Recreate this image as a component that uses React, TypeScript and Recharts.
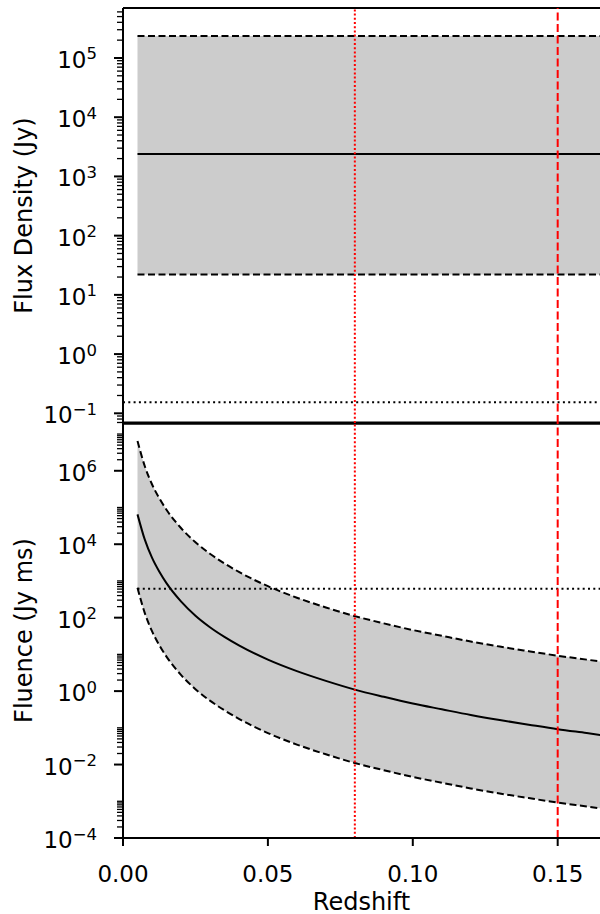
import {
  Area,
  ComposedChart,
  Line,
  ReferenceLine,
  XAxis,
  YAxis,
} from "recharts";

const FONT = "'DejaVu Sans', sans-serif";
const GREY = "#cccccc";

// --- data ---

// redshift axis
const Z_TICKS = [0, 0.05, 0.1, 0.15];
const Z_MAX = 0.1646;
const Z_MARKERS_DOTTED = [0.08];
const Z_MARKERS_DASHED = [0.15];

// top panel: flux density (Jy), flat with redshift
const fluxZ = [0.005, 0.17];
const fluxMid = [2400, 2400];
const fluxLow = [22, 22];
const fluxHigh = [2.35e5, 2.35e5];
const FLUX_LIMIT = 0.153;
const FLUX_DOMAIN = [0.0686, 6.98e5];
const FLUX_MAJOR = [0.1, 1, 10, 100, 1e3, 1e4, 1e5];

// bottom panel: fluence (Jy ms)
const fluenceZ = [
  0.005, 0.0075, 0.01, 0.0125, 0.015, 0.02, 0.025, 0.03, 0.035, 0.04, 0.05, 0.06,
  0.07, 0.08, 0.09, 0.1, 0.11, 0.12, 0.13, 0.14, 0.15, 0.16, 0.17,
];
const fluenceMid = [
  6.5e4, 1.35e4, 4.3e3, 1.8e3, 870, 277, 113, 55, 30, 17.6, 7.2, 3.5, 1.9, 1.1,
  0.7, 0.46, 0.32, 0.224, 0.163, 0.122, 0.092, 0.072, 0.056,
];
const fluenceHigh = [
  6.5e6, 1.35e6, 4.3e5, 1.8e5, 8.7e4, 2.77e4, 1.13e4, 5500, 3000, 1760, 720, 350,
  190, 110, 70, 46, 32, 22.4, 16.3, 12.2, 9.2, 7.2, 5.6,
];
const fluenceLow = [
  650, 135, 43, 18, 8.7, 2.77, 1.13, 0.55, 0.3, 0.176, 0.072, 0.035, 0.019, 0.011,
  0.007, 0.0046, 0.0032, 0.00224, 0.00163, 0.00122, 0.00092, 0.00072, 0.00056,
];
const fluenceLimitZ = [0.005, 0.17];
const fluenceLimit = [610, 610];
const FLUENCE_DOMAIN = [1e-4, 2.0e7];
const FLUENCE_MAJOR = [1e-4, 1e-2, 1, 1e2, 1e4, 1e6];

// --- tick positions ---

const SUBS = [2, 3, 4, 5, 6, 7, 8, 9];

function minorTicks(decades: number[], extra: number[], domain: number[]) {
  const out: number[] = [...extra];
  decades.forEach((d) => SUBS.forEach((k) => out.push(k * Math.pow(10, d))));
  return out.filter((v) => v >= domain[0] && v <= domain[1]);
}

const fluxTicks = [
  ...FLUX_MAJOR,
  ...minorTicks([-2, -1, 0, 1, 2, 3, 4, 5], [], FLUX_DOMAIN),
];
// majors every second decade: minor ticks only fill the even decades
const fluenceTicks = [
  ...FLUENCE_MAJOR,
  ...minorTicks([-4, -2, 0, 2, 4, 6], [1e-3, 1e-1, 10, 1e3, 1e5, 1e7], FLUENCE_DOMAIN),
];

// --- rows for recharts ---

const fluxRows = fluxZ.map((z, i) => ({
  z,
  mid: fluxMid[i],
  lo: fluxLow[i],
  hi: fluxHigh[i],
  band: [fluxLow[i], fluxHigh[i]],
}));

const fluenceRows = fluenceZ.map((z, i) => ({
  z,
  mid: fluenceMid[i],
  lo: fluenceLow[i],
  hi: fluenceHigh[i],
  band: [fluenceLow[i], fluenceHigh[i]],
}));

const fluenceLimitRows = fluenceLimitZ.map((z, i) => ({ z, v: fluenceLimit[i] }));

// --- ticks & labels ---

function isIn(list: number[], v: number) {
  return list.some((m) => Math.abs(Math.log10(m) - Math.log10(v)) < 1e-6);
}

function makeLogTick(majors: number[]) {
  return (props: any) => {
    const { x, y, payload } = props;
    const v = payload.value as number;
    const major = isIn(majors, v);
    const exp = Math.round(Math.log10(v));
    return (
      <g>
        <line
          x1={x - (major ? 9 : 6)}
          x2={x}
          y1={y}
          y2={y}
          stroke="#000"
          strokeWidth={major ? 2 : 1.3}
        />
        {major && (
          <text
            x={x - 26}
            y={y + 10}
            textAnchor="end"
            fontFamily={FONT}
            fontSize={23}
            fill="#000"
          >
            10
            <tspan dy={-8.5} fontSize={16.5}>
              {exp < 0 ? `\u2212${-exp}` : `${exp}`}
            </tspan>
          </text>
        )}
      </g>
    );
  };
}

function ZTick(props: any) {
  const { x, y, payload } = props;
  return (
    <g>
      <line x1={x} x2={x} y1={y} y2={y + 8} stroke="#000" strokeWidth={2} />
      <text
        x={x}
        y={y + 44}
        textAnchor="middle"
        fontFamily={FONT}
        fontSize={23}
        fill="#000"
      >
        {(payload.value as number).toFixed(2)}
      </text>
    </g>
  );
}

function yTitle(text: string) {
  return (props: any) => {
    const vb = props.viewBox;
    const cx = 31.5;
    const cy = vb.y + vb.height / 2;
    return (
      <text
        x={cx}
        y={cy}
        transform={`rotate(-90 ${cx} ${cy})`}
        textAnchor="middle"
        fontFamily={FONT}
        fontSize={24}
        fill="#000"
      >
        {text}
      </text>
    );
  };
}

// frame lines drawn at the y-domain bounds (the right spine is off-picture)
function spine(y: number, key: string, width = 1.8) {
  return (
    <ReferenceLine
      key={key}
      y={y}
      stroke="#000"
      strokeWidth={width}
      ifOverflow="visible"
    />
  );
}

function redMarkers() {
  return [
    ...Z_MARKERS_DOTTED.map((z) => (
      <ReferenceLine
        key={`dot-${z}`}
        x={z}
        stroke="#ff0000"
        strokeWidth={2}
        strokeDasharray="2 2.2"
      />
    )),
    ...Z_MARKERS_DASHED.map((z) => (
      <ReferenceLine
        key={`dash-${z}`}
        x={z}
        stroke="#ff0000"
        strokeWidth={2}
        strokeDasharray="8 3.5"
      />
    )),
  ];
}

function FluxPanel() {
  return (
    <ComposedChart
      width={600}
      height={445}
      data={fluxRows}
      margin={{ top: 8, right: 0, bottom: 22, left: 0 }}
    >
      <XAxis
        dataKey="z"
        type="number"
        domain={[0, Z_MAX]}
        allowDataOverflow
        hide
      />
      <YAxis
        type="number"
        scale="log"
        domain={FLUX_DOMAIN}
        allowDataOverflow
        ticks={fluxTicks}
        interval={0}
        width={123}
        tickSize={0}
        tickMargin={0}
        tickLine={false}
        axisLine={{ stroke: "#000", strokeWidth: 2 }}
        tick={makeLogTick(FLUX_MAJOR)}
        label={{ content: yTitle("Flux Density (Jy)") }}
      />
      <Area
        dataKey="band"
        type="linear"
        fill={GREY}
        fillOpacity={1}
        stroke="none"
        isAnimationActive={false}
        activeDot={false}
      />
      <Line dataKey="hi" stroke="#000" strokeWidth={2} strokeDasharray="7 3.5" dot={false} activeDot={false} isAnimationActive={false} />
      <Line dataKey="lo" stroke="#000" strokeWidth={2} strokeDasharray="7 3.5" dot={false} activeDot={false} isAnimationActive={false} />
      <Line dataKey="mid" stroke="#000" strokeWidth={2} dot={false} activeDot={false} isAnimationActive={false} />
      <ReferenceLine y={FLUX_LIMIT} stroke="#000" strokeWidth={2} strokeDasharray="2 3.3" />
      {spine(FLUX_DOMAIN[1], "top")}
      {spine(FLUX_DOMAIN[0], "bottom", 3)}
      {redMarkers()}
    </ComposedChart>
  );
}

function FluencePanel() {
  return (
    <ComposedChart
      width={600}
      height={491}
      data={fluenceRows}
      margin={{ top: 0, right: 0, bottom: 0, left: 0 }}
    >
      <XAxis
        dataKey="z"
        type="number"
        domain={[0, Z_MAX]}
        allowDataOverflow
        ticks={Z_TICKS}
        interval={0}
        height={76}
        tickSize={0}
        tickMargin={0}
        tickLine={false}
        axisLine={{ stroke: "#000", strokeWidth: 1.8 }}
        tick={ZTick}
        label={{
          value: "Redshift",
          position: "insideBottom",
          offset: 4.5,
          fill: "#000",
          fontSize: 24,
          fontFamily: FONT,
        }}
      />
      <YAxis
        type="number"
        scale="log"
        domain={FLUENCE_DOMAIN}
        allowDataOverflow
        ticks={fluenceTicks}
        interval={0}
        width={123}
        tickSize={0}
        tickMargin={0}
        tickLine={false}
        axisLine={{ stroke: "#000", strokeWidth: 2 }}
        tick={makeLogTick(FLUENCE_MAJOR)}
        label={{ content: yTitle("Fluence (Jy ms)") }}
      />
      <Area
        dataKey="band"
        type="monotone"
        fill={GREY}
        fillOpacity={1}
        stroke="none"
        isAnimationActive={false}
        activeDot={false}
      />
      <Line type="monotone" dataKey="hi" stroke="#000" strokeWidth={2} strokeDasharray="7 3.5" dot={false} activeDot={false} isAnimationActive={false} />
      <Line type="monotone" dataKey="lo" stroke="#000" strokeWidth={2} strokeDasharray="7 3.5" dot={false} activeDot={false} isAnimationActive={false} />
      <Line type="monotone" dataKey="mid" stroke="#000" strokeWidth={2} dot={false} activeDot={false} isAnimationActive={false} />
      <Line
        data={fluenceLimitRows}
        dataKey="v"
        stroke="#000"
        strokeWidth={2}
        strokeDasharray="2 3.3"
        dot={false}
        activeDot={false}
        isAnimationActive={false}
      />
      {spine(FLUENCE_DOMAIN[1], "top", 3)}
      {redMarkers()}
    </ComposedChart>
  );
}

export default function App() {
  return (
    <div
      style={{
        position: "absolute",
        left: 0,
        top: 0,
        width: 600,
        height: 914,
        background: "#fff",
        overflow: "hidden",
      }}
    >
      <div style={{ position: "absolute", left: 0, top: 0 }}>
        <FluxPanel />
      </div>
      <div style={{ position: "absolute", left: 0, top: 423 }}>
        <FluencePanel />
      </div>
    </div>
  );
}
